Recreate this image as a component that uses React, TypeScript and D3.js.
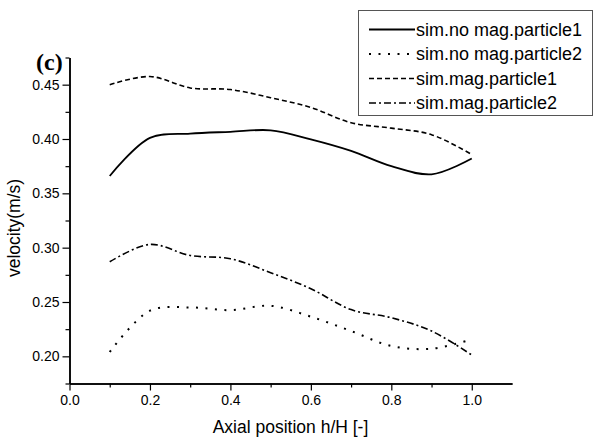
import React, { useRef, useEffect } from "react";
import * as d3 from "d3";

// axial positions h/H
const xPos = [0.1, 0.2, 0.3, 0.4, 0.5, 0.6, 0.7, 0.8, 0.9, 1.0];
// velocities (m/s)
const noMagP1 = [0.366, 0.401, 0.405, 0.4066, 0.408, 0.3996, 0.389, 0.375, 0.3675, 0.382];
const noMagP2 = [0.204, 0.242, 0.245, 0.2425, 0.2465, 0.2365, 0.2233, 0.2095, 0.207, 0.2156];
const magP1 = [0.45, 0.4575, 0.447, 0.4455, 0.438, 0.429, 0.415, 0.41, 0.404, 0.3857];
const magP2 = [0.287, 0.303, 0.2928, 0.2898, 0.277, 0.2622, 0.243, 0.2355, 0.2233, 0.2012];

const seriesNames = ["sim.no mag.particle1", "sim.no mag.particle2", "sim.mag.particle1", "sim.mag.particle2"];
const xTicks = [0, 0.2, 0.4, 0.6, 0.8, 1.0];
const yTicks = [0.2, 0.25, 0.3, 0.35, 0.4, 0.45];

const W = 596;
const H = 438;
const font = "'Liberation Sans', Arial, sans-serif";

export default function App() {
  const svgRef = useRef<SVGSVGElement>(null);

  useEffect(() => {
    const svg = d3.select(svgRef.current);
    svg.selectAll("*").remove();

    const x = d3.scaleLinear().domain([0, 1.1]).range([69.5, 512]);
    const y = d3.scaleLinear().domain([0.175, 0.475]).range([383.5, 57.5]);

    // minor ticks first, major on top
    svg.append("g")
      .attr("transform", `translate(0,${y.range()[0]})`)
      .call(d3.axisBottom(x).tickValues(d3.range(0.1, 1.1, 0.2)).tickSize(4).tickFormat(() => "").tickSizeOuter(0));
    svg.append("g")
      .attr("transform", `translate(${x.range()[0]},0)`)
      .call(d3.axisLeft(y).tickValues(d3.range(0.175, 0.476, 0.05)).tickSize(4).tickFormat(() => "").tickSizeOuter(0));

    const gx = svg.append("g")
      .attr("transform", `translate(0,${y.range()[0]})`)
      .call(d3.axisBottom(x).tickValues(xTicks).tickSize(7).tickPadding(5).tickSizeOuter(0).tickFormat(d3.format(".1f")));
    const gy = svg.append("g")
      .attr("transform", `translate(${x.range()[0]},0)`)
      .call(d3.axisLeft(y).tickValues(yTicks).tickSize(7).tickPadding(3).tickSizeOuter(0).tickFormat(d3.format(".2f")));

    svg.selectAll(".domain").attr("stroke", "#000").attr("stroke-width", 1.5);
    svg.selectAll(".tick line").attr("stroke", "#000").attr("stroke-width", 1.2);
    [gx, gy].forEach(g => g.selectAll("text").attr("font-family", font).attr("font-size", 14).attr("fill", "#000"));

    const styles = [
      { dash: null, width: 1.8 },
      { dash: "2,7.5", width: 2 },
      { dash: "5,3", width: 1.6 },
      { dash: "7,3,2,3", width: 1.6 },
    ];
    const allSeries = [noMagP1, noMagP2, magP1, magP2];

    const line = d3.line<number>()
      .x((d, i) => x(xPos[i]))
      .y(d => y(d))
      .curve(d3.curveCatmullRom.alpha(0.5));

    allSeries.forEach((vals, k) => {
      svg.append("path")
        .attr("d", line(vals))
        .attr("fill", "none")
        .attr("stroke", "#000")
        .attr("stroke-width", styles[k].width)
        .attr("stroke-dasharray", styles[k].dash);
    });

    // legend
    const lg = svg.append("g");
    lg.append("rect")
      .attr("x", 358.5).attr("y", 10.5).attr("width", 234).attr("height", 105)
      .attr("fill", "#fff").attr("stroke", "#555").attr("stroke-width", 1);
    seriesNames.forEach((name, k) => {
      const cy = 29.5 + k * 24.5;
      lg.append("line")
        .attr("x1", 369).attr("x2", 415).attr("y1", cy).attr("y2", cy)
        .attr("stroke", "#000")
        .attr("stroke-width", styles[k].width)
        .attr("stroke-dasharray", styles[k].dash);
      lg.append("text")
        .attr("x", 416).attr("y", cy).attr("dy", "0.35em")
        .attr("font-family", font).attr("font-size", 18)
        .text(name);
    });

    svg.append("text")
      .attr("x", 290.5).attr("y", 433)
      .attr("text-anchor", "middle")
      .attr("font-family", font).attr("font-size", 17.5)
      .text("Axial position h/H [-]");

    svg.append("text")
      .attr("transform", "translate(20,228) rotate(-90)")
      .attr("text-anchor", "middle")
      .attr("font-family", font).attr("font-size", 17.5)
      .text("velocity(m/s)");

    svg.append("text")
      .attr("x", 36).attr("y", 70)
      .attr("font-family", "'Liberation Serif', 'Times New Roman', serif")
      .attr("font-weight", "bold").attr("font-size", 24)
      .text("(c)");
  }, []);

  return (
    <svg
      ref={svgRef}
      width={W}
      height={H}
      style={{ position: "absolute", left: 0, top: 0, background: "#fff" }}
    />
  );
}
